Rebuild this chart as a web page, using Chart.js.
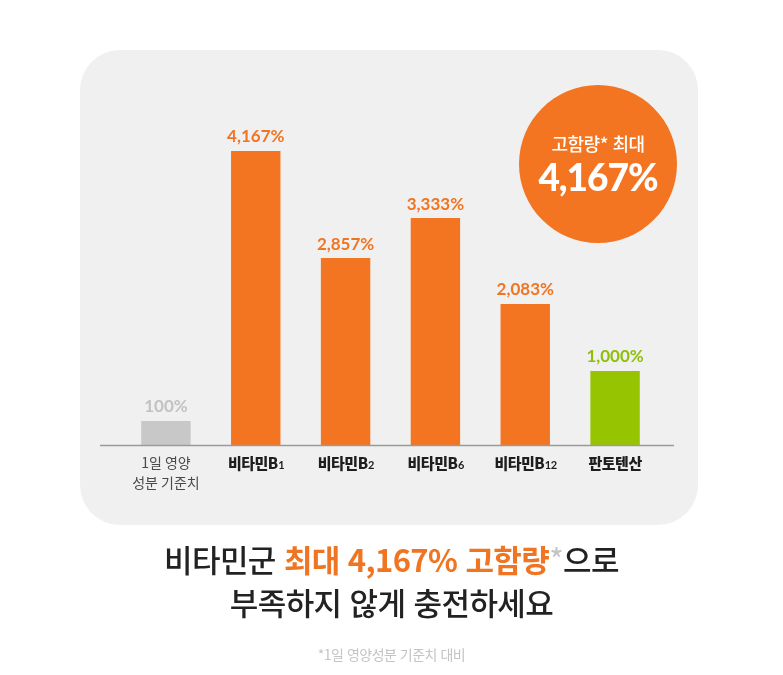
<!DOCTYPE html>
<html lang="ko">
<head>
<meta charset="utf-8">
<script src="https://cdn.jsdelivr.net/npm/chart.js@4.4.1/dist/chart.umd.min.js"></script>
<style>
  html, body { margin: 0; padding: 0; background: #ffffff; }
  body { width: 783px; height: 675px; position: relative; overflow: hidden; font-family: "Noto Sans CJK KR", "Noto Sans", sans-serif; }
  #panel { position: absolute; left: 80px; top: 50px; width: 618px; height: 475px; border-radius: 40px; background: #f0f0f0; }
  #wrap { position: absolute; left: 0; top: 0; width: 783px; height: 675px; }
  #badge { position: absolute; left: 519px; top: 85px; width: 158px; height: 158px; border-radius: 50%; background: #f37521; color: #fff; text-align: center; }
  #badge .t1 { position: absolute; left: 0; right: 0; top: 45px; font-size: 18px; font-weight: 500; line-height: 26px; letter-spacing: -0.5px; }
  #badge .t2 { position: absolute; left: 0; right: 0; top: 70px; font-family: Lato, sans-serif; font-size: 37px; font-weight: 900; line-height: 44px; letter-spacing: -1px; }
  .title { position: absolute; left: 0; width: 783px; text-align: center; font-size: 31px; font-weight: 500; color: #222; line-height: 40px; letter-spacing: -0.6px; }
  .title .hl { color: #f07522; font-weight: 700; }
  .title .star { color: #c4c4c4; font-weight: 400; }
  #note { position: absolute; left: 0; width: 783px; top: 644px; text-align: center; font-size: 14px; color: #c4c4c4; line-height: 20px; letter-spacing: -0.5px; }
</style>
</head>
<body>
<div id="panel"></div>
<div id="wrap"><canvas id="c" width="783" height="675"></canvas></div>
<div id="badge"><div class="t1">고함량* 최대</div><div class="t2">4,167%</div></div>
<div class="title" style="top:539px">비타민군 <span class="hl">최대 4,167% 고함량</span><span class="star">*</span>으로</div>
<div class="title" style="top:582px">부족하지 않게 충전하세요</div>
<div id="note">*1일 영양성분 기준치 대비</div>
<script>
// Categories (two-line label uses '|')
const categories = ['1일 영양|성분 기준치', '비타민B1', '비타민B2', '비타민B6', '비타민B12', '판토텐산'];
// Values printed above each bar (%)
const valueLabels = [100, 4167, 2857, 3333, 2083, 1000];
// Bar lengths as drawn in the picture (relative, tallest bar = 100; the design is not to scale)
const barLengths = [8.2, 100, 63.6, 77.2, 48.0, 25.2];
// Bar groups: 'base' = reference, 'vit' = vitamin B, 'pan' = pantothenic acid
const barGroups = ['base', 'vit', 'vit', 'vit', 'vit', 'pan'];

const fillColors = { base: '#c8c8c8', vit: '#f37521', pan: '#97c400' };
const labelColors = { base: '#c2c2c2', vit: '#f07522', pan: '#8fbf0a' };

const valueLabelPlugin = {
  id: 'valueLabels',
  afterDatasetsDraw(chart) {
    const ctx = chart.ctx;
    const meta = chart.getDatasetMeta(0);
    ctx.save();
    ctx.textAlign = 'center';
    ctx.textBaseline = 'middle';
    ctx.font = '700 17px Lato, sans-serif';
    meta.data.forEach((bar, i) => {
      ctx.fillStyle = labelColors[barGroups[i]];
      ctx.fillText(valueLabels[i].toLocaleString('en-US') + '%', bar.x, bar.y - 14);
    });
    ctx.restore();
  }
};

const axisPlugin = {
  id: 'axisAndLabels',
  afterDraw(chart) {
    const ctx = chart.ctx;
    const area = chart.chartArea;
    const xs = chart.scales.x;
    ctx.save();
    // baseline
    ctx.strokeStyle = '#9a9a9a';
    ctx.lineWidth = 1.5;
    ctx.beginPath();
    ctx.moveTo(area.left - 21, area.bottom + 0.5);
    ctx.lineTo(area.right + 14, area.bottom + 0.5);
    ctx.stroke();
    // category labels
    ctx.textBaseline = 'middle';
    categories.forEach((name, i) => {
      const x = xs.getPixelForValue(i);
      const y = area.bottom + 18;
      if (name.includes('|')) {
        ctx.textAlign = 'center';
        ctx.fillStyle = '#4a4a4a';
        ctx.letterSpacing = '0px';
        ctx.font = '400 14px "Noto Sans CJK KR", sans-serif';
        name.split('|').forEach((line, k) => ctx.fillText(line, x, y + k * 20));
        return;
      }
      const m = name.match(/^(.*?)(\d+)?$/);
      const main = m[1], sub = m[2] || '';
      const mainFont = '900 15px "Noto Sans CJK KR", sans-serif';
      const subFont = '700 11px Lato, sans-serif';
      ctx.letterSpacing = '-0.5px';
      ctx.font = mainFont;
      const w1 = ctx.measureText(main).width;
      ctx.font = subFont;
      const w2 = sub ? ctx.measureText(sub).width : 0;
      const start = x - (w1 + w2) / 2;
      ctx.textAlign = 'left';
      ctx.fillStyle = '#1e1e1e';
      ctx.font = mainFont;
      ctx.fillText(main, start, y);
      if (sub) {
        ctx.font = subFont;
        ctx.fillText(sub, start + w1 + 0.5, y + 2);
      }
    });
    ctx.restore();
  }
};

new Chart(document.getElementById('c'), {
  type: 'bar',
  data: {
    labels: categories,
    datasets: [{
      data: barLengths,
      backgroundColor: barGroups.map(g => fillColors[g]),
      borderWidth: 0,
      barPercentage: 0.55,
      categoryPercentage: 1.0
    }]
  },
  options: {
    responsive: false,
    animation: false,
    devicePixelRatio: 1,
    layout: { padding: { left: 121, right: 123, top: 151, bottom: 230 } },
    plugins: { legend: { display: false }, tooltip: { enabled: false } },
    scales: {
      x: { display: false },
      y: { display: false, min: 0, max: 100 }
    }
  },
  plugins: [valueLabelPlugin, axisPlugin]
});
</script>
</body>
</html>
